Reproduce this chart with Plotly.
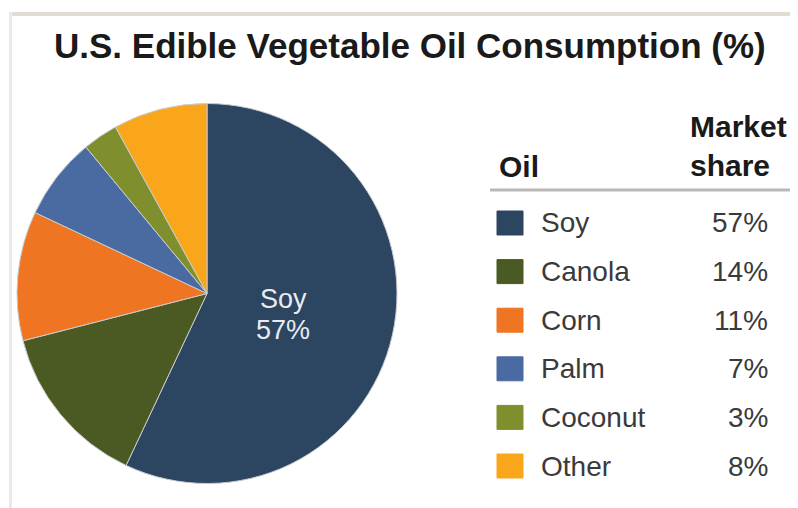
import plotly.graph_objects as go

oils = ["Soy", "Canola", "Corn", "Palm", "Coconut", "Other"]
shares = [57, 14, 11, 7, 3, 8]
colors = ["#2c4561", "#4b5a22", "#f07522", "#4a6ba2", "#808f2d", "#f9a61b"]
title_text = "U.S. Edible Vegetable Oil Consumption (%)"
header_oil = "Oil"
header_share = "Market<br>share"

OFF = 8  # page body margin
W, H = 798 - OFF, 508 - OFF
FONT = "Liberation Sans, Arial, sans-serif"


def px(x):
    return (x - OFF) / W


def py(y):
    return 1 - (y - OFF) / H


fig = go.Figure()
fig.add_trace(go.Pie(
    labels=oils, values=shares, sort=False, direction="clockwise", rotation=0,
    marker=dict(colors=colors, line=dict(color="#c8ccd0", width=1)),
    textinfo="none", hoverinfo="label+percent", showlegend=False,
    domain=dict(x=[px(17), px(397)], y=[py(484), py(103)]),
))

ann = []
shapes = []
# frame
shapes.append(dict(type="line", xref="paper", yref="paper", x0=px(9), x1=1, y0=py(14), y1=py(14),
                   line=dict(color="#e2dcd2", width=4)))
shapes.append(dict(type="line", xref="paper", yref="paper", x0=px(10.5), x1=px(10.5), y0=py(12), y1=0,
                   line=dict(color="#ece8e2", width=3)))
# title
ann.append(dict(text="<b>" + title_text + "</b>", x=px(410), y=py(46), xref="paper", yref="paper",
                showarrow=False, xanchor="center", yanchor="middle",
                font=dict(family=FONT, size=35, color="#1a1a1a")))
# soy label
ann.append(dict(text=oils[0], x=px(283), y=py(299), xref="paper", yref="paper",
                showarrow=False, xanchor="center", yanchor="middle",
                font=dict(family=FONT, size=27, color="#e8ecf0")))
ann.append(dict(text=f"{shares[0]}%", x=px(283), y=py(330), xref="paper", yref="paper",
                showarrow=False, xanchor="center", yanchor="middle",
                font=dict(family=FONT, size=27, color="#e8ecf0")))
# headers
ann.append(dict(text="<b>" + header_oil + "</b>", x=px(497), y=py(166), xref="paper", yref="paper",
                showarrow=False, xanchor="left", yanchor="middle",
                font=dict(family=FONT, size=30, color="#1a1a1a")))
ann.append(dict(text="<b>" + header_share + "</b>", x=px(688), y=py(146), xref="paper", yref="paper",
                showarrow=False, xanchor="left", yanchor="middle", align="left",
                font=dict(family=FONT, size=30, color="#1a1a1a")))
shapes.append(dict(type="line", xref="paper", yref="paper", x0=px(490), x1=1, y0=py(190), y1=py(190),
                   line=dict(color="#b8b8b8", width=3)))

row0, step = 223, 48.6
for i, (o, s, c) in enumerate(zip(oils, shares, colors)):
    yc = row0 + i * step
    shapes.append(dict(type="rect", xref="paper", yref="paper", x0=px(497), x1=px(523),
                       y0=py(yc + 12), y1=py(yc - 12), fillcolor=c, line=dict(color=c, width=1)))
    ann.append(dict(text=o, x=px(539), y=py(yc), xref="paper", yref="paper", showarrow=False,
                    xanchor="left", yanchor="middle", font=dict(family=FONT, size=28, color="#3a3a3a")))
    ann.append(dict(text=f"{s}%", x=px(770), y=py(yc), xref="paper", yref="paper", showarrow=False,
                    xanchor="right", yanchor="middle", font=dict(family=FONT, size=28, color="#3a3a3a")))

fig.update_layout(width=W, height=H, margin=dict(l=0, r=0, t=0, b=0),
                  paper_bgcolor="white", plot_bgcolor="white",
                  annotations=ann, shapes=shapes)
fig.write_html("out.html")
